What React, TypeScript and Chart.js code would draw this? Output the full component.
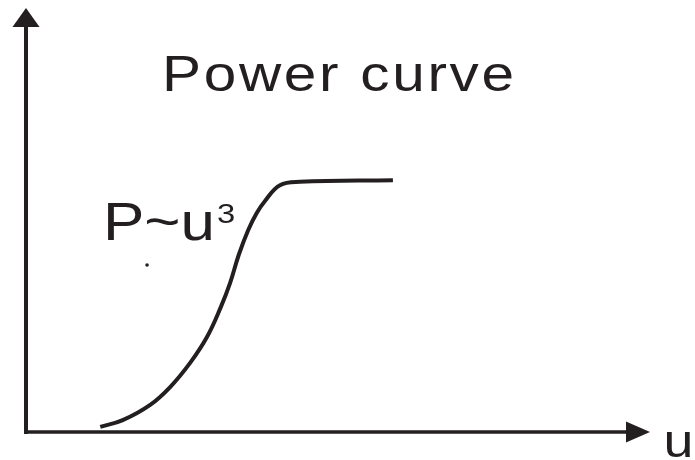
import React, { useEffect, useRef } from "react";
import { Chart, registerables } from "chart.js";

Chart.register(...registerables);

// Wind speed (u) and power (P), in % of axis length
const curveU = [11.9, 15.5, 19.9, 23.1, 26.3, 29.0, 31.2, 32.7, 34.1, 35.6, 37.0, 38.3, 40.7, 43.9, 58.8];
const curveP = [1.2, 2.8, 6.4, 10.6, 16.3, 22.4, 29.4, 35.1, 41.8, 47.6, 51.7, 54.5, 58.2, 59.0, 59.4];
const dotU = [19.4];
const dotP = [39.4];

const titleText = "Power curve";
const lawText = "P~u";
const lawExponent = "3";
const xAxisLabel = "u";

const INK = "#231f20";
const FONT = '"Liberation Sans", Arial, sans-serif';
const STRETCH = 1.17;

function stretchedText(ctx: any, text: string, x: number, y: number, size: number, spacing: number) {
  ctx.save();
  ctx.font = `${size}px ${FONT}`;
  ctx.letterSpacing = `${spacing}px`;
  ctx.translate(x, y);
  ctx.scale(STRETCH, 1);
  ctx.fillText(text, 0, 0);
  ctx.restore();
}

const axesPlugin = {
  id: "sketchAxes",
  afterDraw(chart: any) {
    const { ctx, chartArea } = chart;
    const { left, right, top, bottom } = chartArea;
    ctx.save();
    ctx.strokeStyle = INK;
    ctx.fillStyle = INK;
    // y axis
    ctx.lineWidth = 4;
    ctx.beginPath();
    ctx.moveTo(left, bottom + 2);
    ctx.lineTo(left, top + 18);
    ctx.stroke();
    ctx.beginPath();
    ctx.moveTo(left, top);
    ctx.lineTo(left - 13.5, top + 19);
    ctx.lineTo(left + 13.5, top + 19);
    ctx.closePath();
    ctx.fill();
    // x axis
    ctx.lineWidth = 3.5;
    ctx.beginPath();
    ctx.moveTo(left - 2, bottom);
    ctx.lineTo(right - 23, bottom);
    ctx.stroke();
    ctx.beginPath();
    ctx.moveTo(right, bottom);
    ctx.lineTo(right - 24, bottom - 10.5);
    ctx.lineTo(right - 24, bottom + 10.5);
    ctx.closePath();
    ctx.fill();

    // texts
    ctx.textBaseline = "alphabetic";
    ctx.textAlign = "left";
    stretchedText(ctx, titleText, left + 136, top + 83, 50, 2.3);
    stretchedText(ctx, lawText, left + 77, top + 232, 53, 0);
    stretchedText(ctx, lawExponent, left + 191, top + 215, 28, 0);
    stretchedText(ctx, xAxisLabel, right + 13.5, bottom + 25, 46, 0);
    ctx.restore();
  },
};

export default function App() {
  const ref = useRef<HTMLCanvasElement>(null);
  useEffect(() => {
    document.body.style.margin = "0";
    const chart = new Chart(ref.current!, {
      type: "scatter",
      data: {
        datasets: [
          {
            data: curveU.map((u, i) => ({ x: u, y: curveP[i] })),
            showLine: true,
            borderColor: INK,
            borderWidth: 4,
            pointRadius: 0,
            tension: 0.4,
            clip: false,
          } as any,
          {
            data: dotU.map((u, i) => ({ x: u, y: dotP[i] })),
            showLine: false,
            pointRadius: 1.8,
            pointBorderWidth: 0,
            backgroundColor: INK,
            borderColor: INK,
            clip: false,
          } as any,
        ],
      },
      options: {
        responsive: false,
        animation: false,
        events: [],
        layout: { padding: { left: 26, right: 45, top: 8, bottom: 28 } },
        plugins: { legend: { display: false }, tooltip: { enabled: false }, title: { display: false } },
        scales: {
          x: { type: "linear", min: 0, max: 100, display: false },
          y: { type: "linear", min: 0, max: 100, display: false },
        },
      },
      plugins: [axesPlugin],
    });
    return () => chart.destroy();
  }, []);
  return (
    <div style={{ position: "absolute", left: 0, top: 0, width: 695, height: 460, background: "#fff" }}>
      <canvas ref={ref} width={695} height={460} />
    </div>
  );
}
